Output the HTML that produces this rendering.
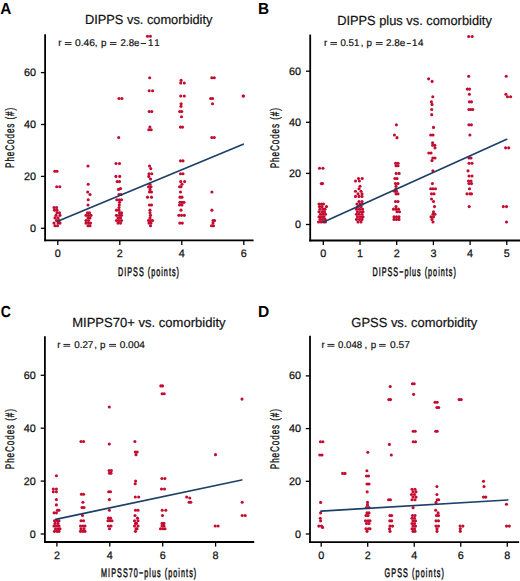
<!DOCTYPE html>
<html><head><meta charset="utf-8"><title>Scatter plots</title>
<style>
html,body{margin:0;padding:0;background:#fff;overflow:hidden;}
svg{display:block;font-family:"Liberation Sans", sans-serif;text-rendering:geometricPrecision;}
</style></head>
<body>
<svg width="520" height="581" viewBox="0 0 520 581">
<rect width="520" height="581" fill="#fff"/>
<g fill="#c20c30">
<text x="0.32" y="14" font-size="16" font-weight="bold" fill="#000" textLength="11.1" lengthAdjust="spacingAndGlyphs">A</text>
<text x="84.97" y="23.5" font-size="13.2" fill="#111" textLength="127.46" lengthAdjust="spacingAndGlyphs" stroke="#111" stroke-width="0.2">DIPPS vs. comorbidity</text>
<line x1="45.1" y1="34.2" x2="45.1" y2="241.2" stroke="#000" stroke-width="1.8"/>
<line x1="44.3" y1="240.3" x2="253.6" y2="240.3" stroke="#000" stroke-width="1.8"/>
<line x1="40.9" y1="228.3" x2="45.1" y2="228.3" stroke="#000" stroke-width="1.3"/>
<text x="36" y="231.8" font-size="10.8" fill="#111" stroke="#111" stroke-width="0.25" text-anchor="end">0</text>
<line x1="40.9" y1="176.4" x2="45.1" y2="176.4" stroke="#000" stroke-width="1.3"/>
<text x="36" y="179.9" font-size="10.8" fill="#111" stroke="#111" stroke-width="0.25" text-anchor="end">20</text>
<line x1="40.9" y1="124.5" x2="45.1" y2="124.5" stroke="#000" stroke-width="1.3"/>
<text x="36" y="128" font-size="10.8" fill="#111" stroke="#111" stroke-width="0.25" text-anchor="end">40</text>
<line x1="40.9" y1="72.6" x2="45.1" y2="72.6" stroke="#000" stroke-width="1.3"/>
<text x="36" y="76.1" font-size="10.8" fill="#111" stroke="#111" stroke-width="0.25" text-anchor="end">60</text>
<line x1="57.8" y1="240.3" x2="57.8" y2="244.9" stroke="#000" stroke-width="1.3"/>
<line x1="119.8" y1="240.3" x2="119.8" y2="244.9" stroke="#000" stroke-width="1.3"/>
<line x1="181.8" y1="240.3" x2="181.8" y2="244.9" stroke="#000" stroke-width="1.3"/>
<line x1="243.8" y1="240.3" x2="243.8" y2="244.9" stroke="#000" stroke-width="1.3"/>
<text x="57.8" y="257" font-size="10.8" fill="#111" stroke="#111" stroke-width="0.25" text-anchor="middle">0</text>
<text x="119.8" y="257" font-size="10.8" fill="#111" stroke="#111" stroke-width="0.25" text-anchor="middle">2</text>
<text x="181.8" y="257" font-size="10.8" fill="#111" stroke="#111" stroke-width="0.25" text-anchor="middle">4</text>
<text x="243.8" y="257" font-size="10.8" fill="#111" stroke="#111" stroke-width="0.25" text-anchor="middle">6</text>
<text transform="translate(118.02 275.6) scale(0.58 1)" x="0" y="0" font-size="12.4" fill="#111" stroke="#111" stroke-width="0.5" letter-spacing="1.773">DIPSS (points)</text>
<g transform="translate(14 137.8) rotate(-90)"><text transform="translate(-30.15 0) scale(0.66 1)" x="0" y="0" font-size="12.4" fill="#111" stroke="#111" stroke-width="0.35" letter-spacing="1.335">PheCodes (#)</text></g>
<circle cx="54.8" cy="171.21" r="1.55"/>
<circle cx="57" cy="171.21" r="1.55"/>
<circle cx="56.7" cy="186.78" r="1.55"/>
<circle cx="59.8" cy="186.78" r="1.55"/>
<circle cx="54" cy="207.54" r="1.55"/>
<circle cx="56.5" cy="207.54" r="1.55"/>
<circle cx="54.5" cy="210.14" r="1.55"/>
<circle cx="57" cy="210.14" r="1.55"/>
<circle cx="59.5" cy="212.73" r="1.55"/>
<circle cx="57" cy="212.73" r="1.55"/>
<circle cx="60" cy="215.33" r="1.55"/>
<circle cx="56" cy="215.33" r="1.55"/>
<circle cx="58" cy="217.92" r="1.55"/>
<circle cx="55" cy="217.92" r="1.55"/>
<circle cx="59" cy="220.52" r="1.55"/>
<circle cx="56.5" cy="220.52" r="1.55"/>
<circle cx="54" cy="223.11" r="1.55"/>
<circle cx="58" cy="223.11" r="1.55"/>
<circle cx="60" cy="223.11" r="1.55"/>
<circle cx="55" cy="225.71" r="1.55"/>
<circle cx="57.5" cy="225.71" r="1.55"/>
<circle cx="88" cy="166.02" r="1.55"/>
<circle cx="88.2" cy="184.19" r="1.55"/>
<circle cx="87.7" cy="191.97" r="1.55"/>
<circle cx="90" cy="194.56" r="1.55"/>
<circle cx="88.2" cy="199.75" r="1.55"/>
<circle cx="88" cy="204.95" r="1.55"/>
<circle cx="87.5" cy="212.73" r="1.55"/>
<circle cx="89.5" cy="212.73" r="1.55"/>
<circle cx="86" cy="215.33" r="1.55"/>
<circle cx="88.5" cy="215.33" r="1.55"/>
<circle cx="91" cy="215.33" r="1.55"/>
<circle cx="88" cy="217.92" r="1.55"/>
<circle cx="90" cy="217.92" r="1.55"/>
<circle cx="86" cy="220.52" r="1.55"/>
<circle cx="88.5" cy="220.52" r="1.55"/>
<circle cx="86" cy="223.11" r="1.55"/>
<circle cx="88.5" cy="223.11" r="1.55"/>
<circle cx="90.5" cy="223.11" r="1.55"/>
<circle cx="88" cy="225.71" r="1.55"/>
<circle cx="90" cy="225.71" r="1.55"/>
<circle cx="119" cy="98.55" r="1.55"/>
<circle cx="121.9" cy="98.55" r="1.55"/>
<circle cx="118.7" cy="137.48" r="1.55"/>
<circle cx="116" cy="163.43" r="1.55"/>
<circle cx="119.5" cy="163.43" r="1.55"/>
<circle cx="115.9" cy="176.4" r="1.55"/>
<circle cx="119.7" cy="176.4" r="1.55"/>
<circle cx="117.2" cy="181.59" r="1.55"/>
<circle cx="119.5" cy="181.59" r="1.55"/>
<circle cx="118.5" cy="189.38" r="1.55"/>
<circle cx="120.5" cy="188.6" r="1.55"/>
<circle cx="119" cy="194.56" r="1.55"/>
<circle cx="121" cy="194.56" r="1.55"/>
<circle cx="116.8" cy="199.75" r="1.55"/>
<circle cx="119.3" cy="199.75" r="1.55"/>
<circle cx="121.5" cy="199.75" r="1.55"/>
<circle cx="119.5" cy="202.35" r="1.55"/>
<circle cx="119.3" cy="204.95" r="1.55"/>
<circle cx="119" cy="207.54" r="1.55"/>
<circle cx="116.5" cy="210.14" r="1.55"/>
<circle cx="119" cy="210.14" r="1.55"/>
<circle cx="119.5" cy="212.73" r="1.55"/>
<circle cx="121.5" cy="212.73" r="1.55"/>
<circle cx="116.5" cy="215.33" r="1.55"/>
<circle cx="119.5" cy="215.33" r="1.55"/>
<circle cx="121.5" cy="215.33" r="1.55"/>
<circle cx="118" cy="217.92" r="1.55"/>
<circle cx="120.5" cy="217.92" r="1.55"/>
<circle cx="116.5" cy="220.52" r="1.55"/>
<circle cx="119" cy="220.52" r="1.55"/>
<circle cx="121.5" cy="220.52" r="1.55"/>
<circle cx="118" cy="223.11" r="1.55"/>
<circle cx="120.5" cy="223.11" r="1.55"/>
<circle cx="147.5" cy="36.27" r="1.55"/>
<circle cx="150.4" cy="36.27" r="1.55"/>
<circle cx="149.7" cy="77.79" r="1.55"/>
<circle cx="149.2" cy="90.77" r="1.55"/>
<circle cx="152.6" cy="90.77" r="1.55"/>
<circle cx="149.2" cy="111.53" r="1.55"/>
<circle cx="151.8" cy="111.53" r="1.55"/>
<circle cx="149.9" cy="127.09" r="1.55"/>
<circle cx="148.8" cy="129.69" r="1.55"/>
<circle cx="151.2" cy="129.69" r="1.55"/>
<circle cx="149.5" cy="166.02" r="1.55"/>
<circle cx="150.8" cy="168.62" r="1.55"/>
<circle cx="149" cy="173.81" r="1.55"/>
<circle cx="151.8" cy="173.81" r="1.55"/>
<circle cx="148.8" cy="176.4" r="1.55"/>
<circle cx="150.5" cy="179" r="1.55"/>
<circle cx="150" cy="184.19" r="1.55"/>
<circle cx="148.5" cy="186.78" r="1.55"/>
<circle cx="151" cy="186.78" r="1.55"/>
<circle cx="150" cy="189.38" r="1.55"/>
<circle cx="149.5" cy="191.97" r="1.55"/>
<circle cx="151.5" cy="191.97" r="1.55"/>
<circle cx="147.5" cy="197.16" r="1.55"/>
<circle cx="151.5" cy="197.16" r="1.55"/>
<circle cx="149.5" cy="204.95" r="1.55"/>
<circle cx="151.5" cy="204.95" r="1.55"/>
<circle cx="150" cy="210.14" r="1.55"/>
<circle cx="150" cy="212.73" r="1.55"/>
<circle cx="150.5" cy="215.33" r="1.55"/>
<circle cx="150" cy="217.92" r="1.55"/>
<circle cx="148.5" cy="220.52" r="1.55"/>
<circle cx="150.5" cy="220.52" r="1.55"/>
<circle cx="152.5" cy="220.52" r="1.55"/>
<circle cx="149" cy="223.11" r="1.55"/>
<circle cx="151" cy="223.11" r="1.55"/>
<circle cx="150.5" cy="225.71" r="1.55"/>
<circle cx="181.1" cy="80.38" r="1.55"/>
<circle cx="180.7" cy="82.98" r="1.55"/>
<circle cx="184.3" cy="82.98" r="1.55"/>
<circle cx="180.7" cy="95.96" r="1.55"/>
<circle cx="184.3" cy="95.96" r="1.55"/>
<circle cx="181.1" cy="103.74" r="1.55"/>
<circle cx="181" cy="106.34" r="1.55"/>
<circle cx="179.7" cy="111.53" r="1.55"/>
<circle cx="181.8" cy="111.53" r="1.55"/>
<circle cx="181.5" cy="116.72" r="1.55"/>
<circle cx="180.4" cy="127.09" r="1.55"/>
<circle cx="182.5" cy="127.09" r="1.55"/>
<circle cx="180.5" cy="160.83" r="1.55"/>
<circle cx="183" cy="160.83" r="1.55"/>
<circle cx="180.5" cy="173.81" r="1.55"/>
<circle cx="183" cy="173.81" r="1.55"/>
<circle cx="180.7" cy="181.59" r="1.55"/>
<circle cx="184.6" cy="181.59" r="1.55"/>
<circle cx="182" cy="184.19" r="1.55"/>
<circle cx="179.6" cy="186.78" r="1.55"/>
<circle cx="181" cy="186.78" r="1.55"/>
<circle cx="180.5" cy="191.97" r="1.55"/>
<circle cx="180" cy="197.16" r="1.55"/>
<circle cx="182" cy="197.16" r="1.55"/>
<circle cx="180" cy="202.35" r="1.55"/>
<circle cx="182" cy="202.35" r="1.55"/>
<circle cx="184" cy="202.35" r="1.55"/>
<circle cx="179.5" cy="204.95" r="1.55"/>
<circle cx="182" cy="204.95" r="1.55"/>
<circle cx="181" cy="210.14" r="1.55"/>
<circle cx="178.8" cy="215.33" r="1.55"/>
<circle cx="181.5" cy="215.33" r="1.55"/>
<circle cx="184.3" cy="215.33" r="1.55"/>
<circle cx="179.8" cy="223.11" r="1.55"/>
<circle cx="182.3" cy="223.11" r="1.55"/>
<circle cx="211.8" cy="77.79" r="1.55"/>
<circle cx="214.3" cy="77.79" r="1.55"/>
<circle cx="210.7" cy="98.55" r="1.55"/>
<circle cx="212.5" cy="98.55" r="1.55"/>
<circle cx="212.5" cy="103.74" r="1.55"/>
<circle cx="211.8" cy="137.48" r="1.55"/>
<circle cx="214.3" cy="137.48" r="1.55"/>
<circle cx="211.9" cy="191.97" r="1.55"/>
<circle cx="211.9" cy="210.14" r="1.55"/>
<circle cx="213" cy="220.52" r="1.55"/>
<circle cx="214.6" cy="220.52" r="1.55"/>
<circle cx="213" cy="223.11" r="1.55"/>
<circle cx="211.5" cy="225.71" r="1.55"/>
<circle cx="213.5" cy="225.71" r="1.55"/>
<circle cx="243.2" cy="95.96" r="1.55"/>
<circle cx="243.4" cy="95.96" r="1.55"/>
<line x1="57.7" y1="221.3" x2="243.2" y2="144.2" stroke="#1c4066" stroke-width="1.75" stroke-linecap="round"/>
<text x="58.36" y="46.4" font-size="9.8" fill="#111" stroke="#111" stroke-width="0.2">r</text>
<rect x="64.8" y="42.15" width="6.7" height="0.9" fill="#111"/>
<rect x="64.8" y="43.95" width="6.7" height="0.9" fill="#111"/>
<text x="74.94" y="46.4" font-size="9.8" fill="#111" textLength="20.09" lengthAdjust="spacingAndGlyphs" stroke="#111" stroke-width="0.2">0.46</text>
<text x="94.82" y="46.4" font-size="9.8" fill="#111" stroke="#111" stroke-width="0.2">,</text>
<text x="101.06" y="46.4" font-size="9.8" fill="#111" stroke="#111" stroke-width="0.2">p</text>
<rect x="109.9" y="42.15" width="6.6" height="0.9" fill="#111"/>
<rect x="109.9" y="43.95" width="6.6" height="0.9" fill="#111"/>
<text x="120.57" y="46.4" font-size="9.8" fill="#111" textLength="18.83" lengthAdjust="spacingAndGlyphs" stroke="#111" stroke-width="0.2">2.8e</text>
<rect x="140.7" y="43.05" width="5.3" height="0.9" fill="#111"/>
<text x="147.97" y="46.4" font-size="9.8" fill="#111" stroke="#111" stroke-width="0.2">1</text>
<text x="154.26" y="46.4" font-size="9.8" fill="#111" stroke="#111" stroke-width="0.2">1</text>
<text x="258.1" y="13.6" font-size="16" font-weight="bold" fill="#000" textLength="11.13" lengthAdjust="spacingAndGlyphs">B</text>
<text x="337.17" y="24.8" font-size="13.2" fill="#111" textLength="154.69" lengthAdjust="spacingAndGlyphs" stroke="#111" stroke-width="0.2">DIPPS plus vs. comorbidity</text>
<line x1="310.2" y1="34.6" x2="310.2" y2="241.4" stroke="#000" stroke-width="1.8"/>
<line x1="309.3" y1="240.5" x2="520" y2="240.5" stroke="#000" stroke-width="1.8"/>
<line x1="306" y1="224.5" x2="310.2" y2="224.5" stroke="#000" stroke-width="1.3"/>
<text x="300.9" y="228" font-size="10.8" fill="#111" stroke="#111" stroke-width="0.25" text-anchor="end">0</text>
<line x1="306" y1="173.4" x2="310.2" y2="173.4" stroke="#000" stroke-width="1.3"/>
<text x="300.9" y="176.9" font-size="10.8" fill="#111" stroke="#111" stroke-width="0.25" text-anchor="end">20</text>
<line x1="306" y1="122.3" x2="310.2" y2="122.3" stroke="#000" stroke-width="1.3"/>
<text x="300.9" y="125.8" font-size="10.8" fill="#111" stroke="#111" stroke-width="0.25" text-anchor="end">40</text>
<line x1="306" y1="71.2" x2="310.2" y2="71.2" stroke="#000" stroke-width="1.3"/>
<text x="300.9" y="74.7" font-size="10.8" fill="#111" stroke="#111" stroke-width="0.25" text-anchor="end">60</text>
<line x1="323.3" y1="240.5" x2="323.3" y2="245.1" stroke="#000" stroke-width="1.3"/>
<line x1="360" y1="240.5" x2="360" y2="245.1" stroke="#000" stroke-width="1.3"/>
<line x1="396.7" y1="240.5" x2="396.7" y2="245.1" stroke="#000" stroke-width="1.3"/>
<line x1="433.4" y1="240.5" x2="433.4" y2="245.1" stroke="#000" stroke-width="1.3"/>
<line x1="470.1" y1="240.5" x2="470.1" y2="245.1" stroke="#000" stroke-width="1.3"/>
<line x1="506.8" y1="240.5" x2="506.8" y2="245.1" stroke="#000" stroke-width="1.3"/>
<text x="323.3" y="257" font-size="10.8" fill="#111" stroke="#111" stroke-width="0.25" text-anchor="middle">0</text>
<text x="360" y="257" font-size="10.8" fill="#111" stroke="#111" stroke-width="0.25" text-anchor="middle">1</text>
<text x="396.7" y="257" font-size="10.8" fill="#111" stroke="#111" stroke-width="0.25" text-anchor="middle">2</text>
<text x="433.4" y="257" font-size="10.8" fill="#111" stroke="#111" stroke-width="0.25" text-anchor="middle">3</text>
<text x="470.1" y="257" font-size="10.8" fill="#111" stroke="#111" stroke-width="0.25" text-anchor="middle">4</text>
<text x="506.8" y="257" font-size="10.8" fill="#111" stroke="#111" stroke-width="0.25" text-anchor="middle">5</text>
<text transform="translate(372.52 275.6) scale(0.58 1)" x="0" y="0" font-size="12.4" fill="#111" stroke="#111" stroke-width="0.5" letter-spacing="1.759">DIPSS−plus (points)</text>
<g transform="translate(279.4 138.1) rotate(-90)"><text transform="translate(-30.15 0) scale(0.66 1)" x="0" y="0" font-size="12.4" fill="#111" stroke="#111" stroke-width="0.35" letter-spacing="1.335">PheCodes (#)</text></g>
<circle cx="319.5" cy="168.29" r="1.55"/>
<circle cx="323" cy="168.29" r="1.55"/>
<circle cx="321.3" cy="183.62" r="1.55"/>
<circle cx="322.5" cy="183.62" r="1.55"/>
<circle cx="326.5" cy="206.62" r="1.55"/>
<circle cx="319" cy="204.06" r="1.55"/>
<circle cx="321.5" cy="204.06" r="1.55"/>
<circle cx="323.5" cy="204.06" r="1.55"/>
<circle cx="319.5" cy="206.62" r="1.55"/>
<circle cx="322" cy="206.62" r="1.55"/>
<circle cx="320" cy="209.17" r="1.55"/>
<circle cx="323" cy="209.17" r="1.55"/>
<circle cx="325" cy="209.17" r="1.55"/>
<circle cx="319" cy="211.72" r="1.55"/>
<circle cx="322" cy="211.72" r="1.55"/>
<circle cx="324.5" cy="211.72" r="1.55"/>
<circle cx="320.5" cy="214.28" r="1.55"/>
<circle cx="323" cy="214.28" r="1.55"/>
<circle cx="325.5" cy="214.28" r="1.55"/>
<circle cx="319" cy="216.84" r="1.55"/>
<circle cx="321.5" cy="216.84" r="1.55"/>
<circle cx="324" cy="216.84" r="1.55"/>
<circle cx="320" cy="219.39" r="1.55"/>
<circle cx="322.5" cy="219.39" r="1.55"/>
<circle cx="325" cy="219.39" r="1.55"/>
<circle cx="318.5" cy="221.94" r="1.55"/>
<circle cx="321" cy="221.94" r="1.55"/>
<circle cx="323.5" cy="221.94" r="1.55"/>
<circle cx="325.5" cy="221.94" r="1.55"/>
<circle cx="358.5" cy="178.51" r="1.55"/>
<circle cx="362.2" cy="178.51" r="1.55"/>
<circle cx="355.5" cy="181.06" r="1.55"/>
<circle cx="359.4" cy="181.06" r="1.55"/>
<circle cx="360" cy="186.18" r="1.55"/>
<circle cx="359" cy="188.73" r="1.55"/>
<circle cx="355.5" cy="191.28" r="1.55"/>
<circle cx="361" cy="191.28" r="1.55"/>
<circle cx="358" cy="193.84" r="1.55"/>
<circle cx="362" cy="193.84" r="1.55"/>
<circle cx="355.5" cy="196.4" r="1.55"/>
<circle cx="359" cy="196.4" r="1.55"/>
<circle cx="362" cy="196.4" r="1.55"/>
<circle cx="359" cy="201.5" r="1.55"/>
<circle cx="362" cy="201.5" r="1.55"/>
<circle cx="357" cy="204.06" r="1.55"/>
<circle cx="360" cy="204.06" r="1.55"/>
<circle cx="362.5" cy="204.06" r="1.55"/>
<circle cx="358" cy="206.62" r="1.55"/>
<circle cx="361" cy="206.62" r="1.55"/>
<circle cx="356.5" cy="209.17" r="1.55"/>
<circle cx="359.5" cy="209.17" r="1.55"/>
<circle cx="362.5" cy="209.17" r="1.55"/>
<circle cx="357.5" cy="211.72" r="1.55"/>
<circle cx="360.5" cy="211.72" r="1.55"/>
<circle cx="363" cy="211.72" r="1.55"/>
<circle cx="356.5" cy="214.28" r="1.55"/>
<circle cx="359" cy="214.28" r="1.55"/>
<circle cx="362" cy="214.28" r="1.55"/>
<circle cx="357.5" cy="216.84" r="1.55"/>
<circle cx="360.5" cy="216.84" r="1.55"/>
<circle cx="363" cy="216.84" r="1.55"/>
<circle cx="356.5" cy="219.39" r="1.55"/>
<circle cx="359.5" cy="219.39" r="1.55"/>
<circle cx="362" cy="219.39" r="1.55"/>
<circle cx="358" cy="221.94" r="1.55"/>
<circle cx="361" cy="221.94" r="1.55"/>
<circle cx="396.4" cy="124.85" r="1.55"/>
<circle cx="394.4" cy="135.07" r="1.55"/>
<circle cx="397" cy="137.63" r="1.55"/>
<circle cx="395.6" cy="163.18" r="1.55"/>
<circle cx="398.1" cy="163.18" r="1.55"/>
<circle cx="396" cy="165.74" r="1.55"/>
<circle cx="398" cy="165.74" r="1.55"/>
<circle cx="396.2" cy="173.4" r="1.55"/>
<circle cx="399.1" cy="173.4" r="1.55"/>
<circle cx="394.9" cy="178.51" r="1.55"/>
<circle cx="397" cy="178.51" r="1.55"/>
<circle cx="395.5" cy="183.62" r="1.55"/>
<circle cx="398" cy="183.62" r="1.55"/>
<circle cx="396" cy="186.18" r="1.55"/>
<circle cx="396" cy="188.73" r="1.55"/>
<circle cx="394.5" cy="191.28" r="1.55"/>
<circle cx="396.5" cy="191.28" r="1.55"/>
<circle cx="396" cy="193.84" r="1.55"/>
<circle cx="398" cy="193.84" r="1.55"/>
<circle cx="395.5" cy="201.5" r="1.55"/>
<circle cx="398" cy="201.5" r="1.55"/>
<circle cx="396" cy="206.62" r="1.55"/>
<circle cx="393.5" cy="209.17" r="1.55"/>
<circle cx="396" cy="209.17" r="1.55"/>
<circle cx="398.5" cy="209.17" r="1.55"/>
<circle cx="397" cy="211.72" r="1.55"/>
<circle cx="399.5" cy="211.72" r="1.55"/>
<circle cx="394" cy="216.84" r="1.55"/>
<circle cx="396.5" cy="216.84" r="1.55"/>
<circle cx="399" cy="216.84" r="1.55"/>
<circle cx="394" cy="219.39" r="1.55"/>
<circle cx="396.5" cy="219.39" r="1.55"/>
<circle cx="399" cy="219.39" r="1.55"/>
<circle cx="428.6" cy="78.86" r="1.55"/>
<circle cx="432.1" cy="81.42" r="1.55"/>
<circle cx="432.8" cy="96.75" r="1.55"/>
<circle cx="431.4" cy="101.86" r="1.55"/>
<circle cx="432" cy="104.41" r="1.55"/>
<circle cx="431.7" cy="109.52" r="1.55"/>
<circle cx="431.7" cy="114.63" r="1.55"/>
<circle cx="433.5" cy="127.41" r="1.55"/>
<circle cx="430.7" cy="135.07" r="1.55"/>
<circle cx="433" cy="135.07" r="1.55"/>
<circle cx="432.6" cy="142.74" r="1.55"/>
<circle cx="432.6" cy="145.3" r="1.55"/>
<circle cx="434.8" cy="145.3" r="1.55"/>
<circle cx="435" cy="147.85" r="1.55"/>
<circle cx="428.8" cy="152.96" r="1.55"/>
<circle cx="431.1" cy="152.96" r="1.55"/>
<circle cx="432.8" cy="158.07" r="1.55"/>
<circle cx="435" cy="158.07" r="1.55"/>
<circle cx="432" cy="160.62" r="1.55"/>
<circle cx="432.9" cy="170.84" r="1.55"/>
<circle cx="432.4" cy="183.62" r="1.55"/>
<circle cx="430.7" cy="188.73" r="1.55"/>
<circle cx="433" cy="188.73" r="1.55"/>
<circle cx="435.5" cy="188.73" r="1.55"/>
<circle cx="431.5" cy="193.84" r="1.55"/>
<circle cx="434" cy="193.84" r="1.55"/>
<circle cx="431.5" cy="198.95" r="1.55"/>
<circle cx="433.5" cy="201.5" r="1.55"/>
<circle cx="434.5" cy="206.62" r="1.55"/>
<circle cx="433.5" cy="211.72" r="1.55"/>
<circle cx="433" cy="214.28" r="1.55"/>
<circle cx="435" cy="214.28" r="1.55"/>
<circle cx="431" cy="216.84" r="1.55"/>
<circle cx="433.5" cy="216.84" r="1.55"/>
<circle cx="432" cy="219.39" r="1.55"/>
<circle cx="433" cy="221.94" r="1.55"/>
<circle cx="468.7" cy="36.45" r="1.55"/>
<circle cx="472.2" cy="36.45" r="1.55"/>
<circle cx="468.7" cy="76.31" r="1.55"/>
<circle cx="467.3" cy="89.08" r="1.55"/>
<circle cx="469.5" cy="89.08" r="1.55"/>
<circle cx="469.4" cy="94.19" r="1.55"/>
<circle cx="469.4" cy="101.86" r="1.55"/>
<circle cx="471.5" cy="101.86" r="1.55"/>
<circle cx="468.9" cy="109.52" r="1.55"/>
<circle cx="470.8" cy="109.52" r="1.55"/>
<circle cx="472.8" cy="109.52" r="1.55"/>
<circle cx="468.9" cy="124.85" r="1.55"/>
<circle cx="471.4" cy="124.85" r="1.55"/>
<circle cx="469.9" cy="135.07" r="1.55"/>
<circle cx="469" cy="158.07" r="1.55"/>
<circle cx="471" cy="158.07" r="1.55"/>
<circle cx="469" cy="163.18" r="1.55"/>
<circle cx="472" cy="163.18" r="1.55"/>
<circle cx="468" cy="170.84" r="1.55"/>
<circle cx="469" cy="175.95" r="1.55"/>
<circle cx="472" cy="175.95" r="1.55"/>
<circle cx="468.5" cy="181.06" r="1.55"/>
<circle cx="471" cy="181.06" r="1.55"/>
<circle cx="469" cy="183.62" r="1.55"/>
<circle cx="471.5" cy="183.62" r="1.55"/>
<circle cx="469.5" cy="188.73" r="1.55"/>
<circle cx="467" cy="193.84" r="1.55"/>
<circle cx="470" cy="193.84" r="1.55"/>
<circle cx="471.5" cy="193.84" r="1.55"/>
<circle cx="469.2" cy="206.62" r="1.55"/>
<circle cx="506.2" cy="76.31" r="1.55"/>
<circle cx="505.9" cy="94.19" r="1.55"/>
<circle cx="507.5" cy="96.75" r="1.55"/>
<circle cx="510.6" cy="96.75" r="1.55"/>
<circle cx="505.6" cy="147.85" r="1.55"/>
<circle cx="508.7" cy="147.85" r="1.55"/>
<circle cx="503.3" cy="206.62" r="1.55"/>
<circle cx="506.5" cy="206.62" r="1.55"/>
<circle cx="506.5" cy="221.94" r="1.55"/>
<line x1="323" y1="222.2" x2="506.7" y2="139.3" stroke="#1c4066" stroke-width="1.75" stroke-linecap="round"/>
<text x="323.96" y="46.3" font-size="9.8" fill="#111" stroke="#111" stroke-width="0.2">r</text>
<rect x="330.4" y="42.05" width="6.6" height="0.9" fill="#111"/>
<rect x="330.4" y="43.85" width="6.6" height="0.9" fill="#111"/>
<text x="340.46" y="46.3" font-size="9.8" fill="#111" textLength="18.89" lengthAdjust="spacingAndGlyphs" stroke="#111" stroke-width="0.2">0.51</text>
<text x="360.72" y="46.3" font-size="9.8" fill="#111" stroke="#111" stroke-width="0.2">,</text>
<text x="366.56" y="46.3" font-size="9.8" fill="#111" stroke="#111" stroke-width="0.2">p</text>
<rect x="375.8" y="42.05" width="6.8" height="0.9" fill="#111"/>
<rect x="375.8" y="43.85" width="6.8" height="0.9" fill="#111"/>
<text x="386.05" y="46.3" font-size="9.8" fill="#111" textLength="19.36" lengthAdjust="spacingAndGlyphs" stroke="#111" stroke-width="0.2">2.8e</text>
<rect x="406.8" y="42.95" width="4.1" height="0.9" fill="#111"/>
<text x="411.96" y="46.3" font-size="9.8" fill="#111" stroke="#111" stroke-width="0.2">1</text>
<text x="417.95" y="46.3" font-size="9.8" fill="#111" stroke="#111" stroke-width="0.2">4</text>
<text x="0.74" y="317.3" font-size="16" font-weight="bold" fill="#000" textLength="10.14" lengthAdjust="spacingAndGlyphs">C</text>
<text x="72.16" y="326.6" font-size="13.2" fill="#111" textLength="153.41" lengthAdjust="spacingAndGlyphs" stroke="#111" stroke-width="0.2">MIPPS70+ vs. comorbidity</text>
<line x1="44.9" y1="336.2" x2="44.9" y2="542.9" stroke="#000" stroke-width="1.8"/>
<line x1="44.1" y1="542" x2="254.2" y2="542" stroke="#000" stroke-width="1.8"/>
<line x1="40.7" y1="534" x2="44.9" y2="534" stroke="#000" stroke-width="1.3"/>
<text x="35.8" y="537.5" font-size="10.8" fill="#111" stroke="#111" stroke-width="0.25" text-anchor="end">0</text>
<line x1="40.7" y1="481.1" x2="44.9" y2="481.1" stroke="#000" stroke-width="1.3"/>
<text x="35.8" y="484.6" font-size="10.8" fill="#111" stroke="#111" stroke-width="0.25" text-anchor="end">20</text>
<line x1="40.7" y1="428.2" x2="44.9" y2="428.2" stroke="#000" stroke-width="1.3"/>
<text x="35.8" y="431.7" font-size="10.8" fill="#111" stroke="#111" stroke-width="0.25" text-anchor="end">40</text>
<line x1="40.7" y1="375.3" x2="44.9" y2="375.3" stroke="#000" stroke-width="1.3"/>
<text x="35.8" y="378.8" font-size="10.8" fill="#111" stroke="#111" stroke-width="0.25" text-anchor="end">60</text>
<line x1="56.9" y1="542" x2="56.9" y2="546.6" stroke="#000" stroke-width="1.3"/>
<line x1="109.8" y1="542" x2="109.8" y2="546.6" stroke="#000" stroke-width="1.3"/>
<line x1="162.7" y1="542" x2="162.7" y2="546.6" stroke="#000" stroke-width="1.3"/>
<line x1="215.6" y1="542" x2="215.6" y2="546.6" stroke="#000" stroke-width="1.3"/>
<text x="56.9" y="558.8" font-size="10.8" fill="#111" stroke="#111" stroke-width="0.25" text-anchor="middle">2</text>
<text x="109.8" y="558.8" font-size="10.8" fill="#111" stroke="#111" stroke-width="0.25" text-anchor="middle">4</text>
<text x="162.7" y="558.8" font-size="10.8" fill="#111" stroke="#111" stroke-width="0.25" text-anchor="middle">6</text>
<text x="215.6" y="558.8" font-size="10.8" fill="#111" stroke="#111" stroke-width="0.25" text-anchor="middle">8</text>
<text transform="translate(101.02 577.2) scale(0.58 1)" x="0" y="0" font-size="12.4" fill="#111" stroke="#111" stroke-width="0.5" letter-spacing="1.852">MIPSS70−plus (points)</text>
<g transform="translate(14 439) rotate(-90)"><text transform="translate(-30.15 0) scale(0.66 1)" x="0" y="0" font-size="12.4" fill="#111" stroke="#111" stroke-width="0.35" letter-spacing="1.335">PheCodes (#)</text></g>
<circle cx="56.4" cy="475.81" r="1.55"/>
<circle cx="53.3" cy="489.03" r="1.55"/>
<circle cx="56.4" cy="489.03" r="1.55"/>
<circle cx="53.3" cy="491.68" r="1.55"/>
<circle cx="56.4" cy="491.68" r="1.55"/>
<circle cx="56.4" cy="499.62" r="1.55"/>
<circle cx="56.4" cy="504.9" r="1.55"/>
<circle cx="57.5" cy="510.19" r="1.55"/>
<circle cx="59" cy="510.19" r="1.55"/>
<circle cx="54.1" cy="512.84" r="1.55"/>
<circle cx="56.4" cy="512.84" r="1.55"/>
<circle cx="54.5" cy="520.77" r="1.55"/>
<circle cx="57" cy="520.77" r="1.55"/>
<circle cx="59" cy="520.77" r="1.55"/>
<circle cx="55" cy="523.42" r="1.55"/>
<circle cx="58" cy="523.42" r="1.55"/>
<circle cx="54" cy="526.07" r="1.55"/>
<circle cx="56.5" cy="526.07" r="1.55"/>
<circle cx="59" cy="526.07" r="1.55"/>
<circle cx="55.5" cy="528.71" r="1.55"/>
<circle cx="58" cy="528.71" r="1.55"/>
<circle cx="60" cy="528.71" r="1.55"/>
<circle cx="54.5" cy="531.36" r="1.55"/>
<circle cx="57" cy="531.36" r="1.55"/>
<circle cx="59" cy="531.36" r="1.55"/>
<circle cx="81" cy="441.43" r="1.55"/>
<circle cx="83.6" cy="441.43" r="1.55"/>
<circle cx="81.4" cy="494.32" r="1.55"/>
<circle cx="83.6" cy="494.32" r="1.55"/>
<circle cx="82.9" cy="502.26" r="1.55"/>
<circle cx="82" cy="507.55" r="1.55"/>
<circle cx="84" cy="507.55" r="1.55"/>
<circle cx="82.5" cy="515.49" r="1.55"/>
<circle cx="81" cy="520.77" r="1.55"/>
<circle cx="83.5" cy="520.77" r="1.55"/>
<circle cx="80.5" cy="526.07" r="1.55"/>
<circle cx="83" cy="526.07" r="1.55"/>
<circle cx="85" cy="526.07" r="1.55"/>
<circle cx="81" cy="528.71" r="1.55"/>
<circle cx="84" cy="528.71" r="1.55"/>
<circle cx="80.5" cy="531.36" r="1.55"/>
<circle cx="83" cy="531.36" r="1.55"/>
<circle cx="85" cy="531.36" r="1.55"/>
<circle cx="109.3" cy="407.04" r="1.55"/>
<circle cx="109.3" cy="444.07" r="1.55"/>
<circle cx="109.1" cy="470.52" r="1.55"/>
<circle cx="111.4" cy="470.52" r="1.55"/>
<circle cx="109.5" cy="473.17" r="1.55"/>
<circle cx="111" cy="473.17" r="1.55"/>
<circle cx="108.7" cy="491.68" r="1.55"/>
<circle cx="110.5" cy="491.68" r="1.55"/>
<circle cx="109.4" cy="499.62" r="1.55"/>
<circle cx="109.4" cy="510.19" r="1.55"/>
<circle cx="108.5" cy="518.13" r="1.55"/>
<circle cx="110.5" cy="518.13" r="1.55"/>
<circle cx="108" cy="520.77" r="1.55"/>
<circle cx="110" cy="520.77" r="1.55"/>
<circle cx="112" cy="520.77" r="1.55"/>
<circle cx="108.5" cy="526.07" r="1.55"/>
<circle cx="111" cy="526.07" r="1.55"/>
<circle cx="109.5" cy="528.71" r="1.55"/>
<circle cx="134.9" cy="441.43" r="1.55"/>
<circle cx="135.3" cy="452" r="1.55"/>
<circle cx="137.2" cy="452" r="1.55"/>
<circle cx="136" cy="454.65" r="1.55"/>
<circle cx="135.6" cy="481.1" r="1.55"/>
<circle cx="135.2" cy="483.75" r="1.55"/>
<circle cx="135.3" cy="496.97" r="1.55"/>
<circle cx="138.7" cy="496.97" r="1.55"/>
<circle cx="135.5" cy="510.19" r="1.55"/>
<circle cx="138" cy="510.19" r="1.55"/>
<circle cx="135" cy="515.49" r="1.55"/>
<circle cx="134.5" cy="520.77" r="1.55"/>
<circle cx="138" cy="520.77" r="1.55"/>
<circle cx="135.5" cy="523.42" r="1.55"/>
<circle cx="134.5" cy="526.07" r="1.55"/>
<circle cx="137" cy="528.71" r="1.55"/>
<circle cx="135.5" cy="531.36" r="1.55"/>
<circle cx="137.5" cy="518.13" r="1.55"/>
<circle cx="136.5" cy="523.42" r="1.55"/>
<circle cx="136" cy="528.71" r="1.55"/>
<circle cx="138" cy="526.07" r="1.55"/>
<circle cx="160.8" cy="385.88" r="1.55"/>
<circle cx="162.5" cy="385.88" r="1.55"/>
<circle cx="162.1" cy="393.81" r="1.55"/>
<circle cx="164.2" cy="393.81" r="1.55"/>
<circle cx="161.9" cy="478.45" r="1.55"/>
<circle cx="164.9" cy="478.45" r="1.55"/>
<circle cx="161.5" cy="489.03" r="1.55"/>
<circle cx="164.5" cy="489.03" r="1.55"/>
<circle cx="162.2" cy="510.19" r="1.55"/>
<circle cx="165.8" cy="510.19" r="1.55"/>
<circle cx="162.5" cy="515.49" r="1.55"/>
<circle cx="162" cy="523.42" r="1.55"/>
<circle cx="164" cy="523.42" r="1.55"/>
<circle cx="162" cy="526.07" r="1.55"/>
<circle cx="164" cy="526.07" r="1.55"/>
<circle cx="160.5" cy="528.71" r="1.55"/>
<circle cx="163" cy="528.71" r="1.55"/>
<circle cx="165" cy="528.71" r="1.55"/>
<circle cx="186.7" cy="496.97" r="1.55"/>
<circle cx="189.8" cy="498.03" r="1.55"/>
<circle cx="189.1" cy="502.26" r="1.55"/>
<circle cx="190.8" cy="502.26" r="1.55"/>
<circle cx="215.5" cy="454.65" r="1.55"/>
<circle cx="215.2" cy="526.07" r="1.55"/>
<circle cx="218.1" cy="526.07" r="1.55"/>
<circle cx="242" cy="399.11" r="1.55"/>
<circle cx="242.2" cy="502.26" r="1.55"/>
<circle cx="242.2" cy="515.49" r="1.55"/>
<circle cx="245.2" cy="515.49" r="1.55"/>
<line x1="55.7" y1="519.3" x2="241.7" y2="480" stroke="#1c4066" stroke-width="1.75" stroke-linecap="round"/>
<text x="57.36" y="348.2" font-size="9.8" fill="#111" stroke="#111" stroke-width="0.2">r</text>
<rect x="63.4" y="343.95" width="6.8" height="0.9" fill="#111"/>
<rect x="63.4" y="345.75" width="6.8" height="0.9" fill="#111"/>
<text x="74.16" y="348.2" font-size="9.8" fill="#111" textLength="19.2" lengthAdjust="spacingAndGlyphs" stroke="#111" stroke-width="0.2">0.27</text>
<text x="94.22" y="348.2" font-size="9.8" fill="#111" stroke="#111" stroke-width="0.2">,</text>
<text x="100.06" y="348.2" font-size="9.8" fill="#111" stroke="#111" stroke-width="0.2">p</text>
<rect x="109.1" y="343.95" width="6.9" height="0.9" fill="#111"/>
<rect x="109.1" y="345.75" width="6.9" height="0.9" fill="#111"/>
<text x="119.65" y="348.2" font-size="9.8" fill="#111" textLength="25.23" lengthAdjust="spacingAndGlyphs" stroke="#111" stroke-width="0.2">0.004</text>
<text x="258.09" y="317.3" font-size="16" font-weight="bold" fill="#000" textLength="11.27" lengthAdjust="spacingAndGlyphs">D</text>
<text x="351.35" y="326.6" font-size="13.2" fill="#111" textLength="125.82" lengthAdjust="spacingAndGlyphs" stroke="#111" stroke-width="0.2">GPSS vs. comorbidity</text>
<line x1="310" y1="335.8" x2="310" y2="543" stroke="#000" stroke-width="1.8"/>
<line x1="309" y1="542.1" x2="519.1" y2="542.1" stroke="#000" stroke-width="1.8"/>
<line x1="305.8" y1="534" x2="310" y2="534" stroke="#000" stroke-width="1.3"/>
<text x="300.9" y="537.5" font-size="10.8" fill="#111" stroke="#111" stroke-width="0.25" text-anchor="end">0</text>
<line x1="305.8" y1="481.3" x2="310" y2="481.3" stroke="#000" stroke-width="1.3"/>
<text x="300.9" y="484.8" font-size="10.8" fill="#111" stroke="#111" stroke-width="0.25" text-anchor="end">20</text>
<line x1="305.8" y1="428.6" x2="310" y2="428.6" stroke="#000" stroke-width="1.3"/>
<text x="300.9" y="432.1" font-size="10.8" fill="#111" stroke="#111" stroke-width="0.25" text-anchor="end">40</text>
<line x1="305.8" y1="375.9" x2="310" y2="375.9" stroke="#000" stroke-width="1.3"/>
<text x="300.9" y="379.4" font-size="10.8" fill="#111" stroke="#111" stroke-width="0.25" text-anchor="end">60</text>
<line x1="321.2" y1="542.1" x2="321.2" y2="546.7" stroke="#000" stroke-width="1.3"/>
<line x1="367.72" y1="542.1" x2="367.72" y2="546.7" stroke="#000" stroke-width="1.3"/>
<line x1="414.24" y1="542.1" x2="414.24" y2="546.7" stroke="#000" stroke-width="1.3"/>
<line x1="460.76" y1="542.1" x2="460.76" y2="546.7" stroke="#000" stroke-width="1.3"/>
<line x1="507.28" y1="542.1" x2="507.28" y2="546.7" stroke="#000" stroke-width="1.3"/>
<text x="321.2" y="558.8" font-size="10.8" fill="#111" stroke="#111" stroke-width="0.25" text-anchor="middle">0</text>
<text x="367.72" y="558.8" font-size="10.8" fill="#111" stroke="#111" stroke-width="0.25" text-anchor="middle">2</text>
<text x="414.24" y="558.8" font-size="10.8" fill="#111" stroke="#111" stroke-width="0.25" text-anchor="middle">4</text>
<text x="460.76" y="558.8" font-size="10.8" fill="#111" stroke="#111" stroke-width="0.25" text-anchor="middle">6</text>
<text x="507.28" y="558.8" font-size="10.8" fill="#111" stroke="#111" stroke-width="0.25" text-anchor="middle">8</text>
<text transform="translate(384.54 577.2) scale(0.58 1)" x="0" y="0" font-size="12.4" fill="#111" stroke="#111" stroke-width="0.5" letter-spacing="1.930">GPSS (points)</text>
<g transform="translate(279.4 439) rotate(-90)"><text transform="translate(-30.15 0) scale(0.66 1)" x="0" y="0" font-size="12.4" fill="#111" stroke="#111" stroke-width="0.35" letter-spacing="1.335">PheCodes (#)</text></g>
<circle cx="320.4" cy="441.77" r="1.55"/>
<circle cx="322.9" cy="441.77" r="1.55"/>
<circle cx="319.8" cy="454.95" r="1.55"/>
<circle cx="322" cy="454.95" r="1.55"/>
<circle cx="320.6" cy="502.38" r="1.55"/>
<circle cx="320.6" cy="512.92" r="1.55"/>
<circle cx="320.3" cy="518.19" r="1.55"/>
<circle cx="320.6" cy="520.83" r="1.55"/>
<circle cx="318.8" cy="526.1" r="1.55"/>
<circle cx="321.5" cy="526.1" r="1.55"/>
<circle cx="322.6" cy="527.41" r="1.55"/>
<circle cx="342.6" cy="473.39" r="1.55"/>
<circle cx="345" cy="473.39" r="1.55"/>
<circle cx="367.8" cy="452.31" r="1.55"/>
<circle cx="366.9" cy="470.76" r="1.55"/>
<circle cx="366.5" cy="476.03" r="1.55"/>
<circle cx="368.5" cy="476.03" r="1.55"/>
<circle cx="367" cy="483.94" r="1.55"/>
<circle cx="369" cy="483.94" r="1.55"/>
<circle cx="367.2" cy="491.84" r="1.55"/>
<circle cx="367.5" cy="502.38" r="1.55"/>
<circle cx="367.5" cy="505.01" r="1.55"/>
<circle cx="366.5" cy="507.65" r="1.55"/>
<circle cx="369" cy="507.65" r="1.55"/>
<circle cx="367" cy="512.92" r="1.55"/>
<circle cx="369" cy="512.92" r="1.55"/>
<circle cx="366" cy="515.55" r="1.55"/>
<circle cx="368" cy="515.55" r="1.55"/>
<circle cx="365.5" cy="520.83" r="1.55"/>
<circle cx="368" cy="520.83" r="1.55"/>
<circle cx="370" cy="520.83" r="1.55"/>
<circle cx="366.5" cy="523.46" r="1.55"/>
<circle cx="369" cy="523.46" r="1.55"/>
<circle cx="366" cy="528.73" r="1.55"/>
<circle cx="368.5" cy="528.73" r="1.55"/>
<circle cx="370" cy="528.73" r="1.55"/>
<circle cx="367" cy="531.37" r="1.55"/>
<circle cx="390.2" cy="386.44" r="1.55"/>
<circle cx="388.8" cy="399.62" r="1.55"/>
<circle cx="390.5" cy="399.62" r="1.55"/>
<circle cx="389.4" cy="444.41" r="1.55"/>
<circle cx="391.3" cy="454.95" r="1.55"/>
<circle cx="388.6" cy="499.75" r="1.55"/>
<circle cx="390.4" cy="499.75" r="1.55"/>
<circle cx="389.9" cy="515.55" r="1.55"/>
<circle cx="391.7" cy="515.55" r="1.55"/>
<circle cx="389.8" cy="520.83" r="1.55"/>
<circle cx="391.7" cy="520.83" r="1.55"/>
<circle cx="390" cy="526.1" r="1.55"/>
<circle cx="392.5" cy="526.1" r="1.55"/>
<circle cx="389.5" cy="528.73" r="1.55"/>
<circle cx="390" cy="531.37" r="1.55"/>
<circle cx="412.4" cy="383.81" r="1.55"/>
<circle cx="414.2" cy="383.81" r="1.55"/>
<circle cx="413.6" cy="394.35" r="1.55"/>
<circle cx="413.2" cy="431.24" r="1.55"/>
<circle cx="415.2" cy="431.24" r="1.55"/>
<circle cx="413.2" cy="441.77" r="1.55"/>
<circle cx="415.5" cy="441.77" r="1.55"/>
<circle cx="412" cy="489.2" r="1.55"/>
<circle cx="415" cy="489.2" r="1.55"/>
<circle cx="413" cy="491.84" r="1.55"/>
<circle cx="416" cy="491.84" r="1.55"/>
<circle cx="411.5" cy="494.48" r="1.55"/>
<circle cx="414.5" cy="494.48" r="1.55"/>
<circle cx="413" cy="497.11" r="1.55"/>
<circle cx="416" cy="497.11" r="1.55"/>
<circle cx="412" cy="499.75" r="1.55"/>
<circle cx="415" cy="499.75" r="1.55"/>
<circle cx="413.1" cy="507.65" r="1.55"/>
<circle cx="412.5" cy="515.55" r="1.55"/>
<circle cx="415" cy="515.55" r="1.55"/>
<circle cx="412" cy="518.19" r="1.55"/>
<circle cx="414.5" cy="518.19" r="1.55"/>
<circle cx="413" cy="520.83" r="1.55"/>
<circle cx="415.5" cy="520.83" r="1.55"/>
<circle cx="412" cy="523.46" r="1.55"/>
<circle cx="414.5" cy="523.46" r="1.55"/>
<circle cx="413" cy="526.1" r="1.55"/>
<circle cx="415.5" cy="526.1" r="1.55"/>
<circle cx="412" cy="528.73" r="1.55"/>
<circle cx="414.5" cy="528.73" r="1.55"/>
<circle cx="413" cy="531.37" r="1.55"/>
<circle cx="415" cy="531.37" r="1.55"/>
<circle cx="435" cy="402.25" r="1.55"/>
<circle cx="437.2" cy="402.25" r="1.55"/>
<circle cx="436.9" cy="407.52" r="1.55"/>
<circle cx="438.7" cy="407.52" r="1.55"/>
<circle cx="435.7" cy="431.24" r="1.55"/>
<circle cx="437.2" cy="431.24" r="1.55"/>
<circle cx="436.9" cy="486.57" r="1.55"/>
<circle cx="436.9" cy="494.48" r="1.55"/>
<circle cx="437.2" cy="499.75" r="1.55"/>
<circle cx="438.7" cy="499.75" r="1.55"/>
<circle cx="436" cy="502.38" r="1.55"/>
<circle cx="435.7" cy="510.29" r="1.55"/>
<circle cx="438.1" cy="512.92" r="1.55"/>
<circle cx="436.5" cy="515.55" r="1.55"/>
<circle cx="438.5" cy="515.55" r="1.55"/>
<circle cx="436" cy="520.83" r="1.55"/>
<circle cx="438.5" cy="520.83" r="1.55"/>
<circle cx="436" cy="526.1" r="1.55"/>
<circle cx="438.5" cy="526.1" r="1.55"/>
<circle cx="437" cy="528.73" r="1.55"/>
<circle cx="437" cy="531.37" r="1.55"/>
<circle cx="459.2" cy="399.62" r="1.55"/>
<circle cx="461.2" cy="399.62" r="1.55"/>
<circle cx="460.1" cy="526.1" r="1.55"/>
<circle cx="462.9" cy="526.1" r="1.55"/>
<circle cx="460.3" cy="528.73" r="1.55"/>
<circle cx="460.3" cy="531.37" r="1.55"/>
<circle cx="483.5" cy="481.3" r="1.55"/>
<circle cx="484" cy="486.57" r="1.55"/>
<circle cx="483.5" cy="497.11" r="1.55"/>
<circle cx="485.8" cy="497.11" r="1.55"/>
<circle cx="506.5" cy="504.22" r="1.55"/>
<circle cx="506.5" cy="526.1" r="1.55"/>
<circle cx="509.3" cy="526.1" r="1.55"/>
<line x1="321" y1="511.1" x2="507.7" y2="500" stroke="#1c4066" stroke-width="1.75" stroke-linecap="round"/>
<text x="321.46" y="348.2" font-size="9.8" fill="#111" stroke="#111" stroke-width="0.2">r</text>
<rect x="327.4" y="343.95" width="7.1" height="0.9" fill="#111"/>
<rect x="327.4" y="345.75" width="7.1" height="0.9" fill="#111"/>
<text x="338.07" y="348.2" font-size="9.8" fill="#111" textLength="23.99" lengthAdjust="spacingAndGlyphs" stroke="#111" stroke-width="0.2">0.048</text>
<text x="364.62" y="348.2" font-size="9.8" fill="#111" stroke="#111" stroke-width="0.2">,</text>
<text x="370.76" y="348.2" font-size="9.8" fill="#111" stroke="#111" stroke-width="0.2">p</text>
<rect x="379.1" y="343.95" width="6.6" height="0.9" fill="#111"/>
<rect x="379.1" y="345.75" width="6.6" height="0.9" fill="#111"/>
<text x="390.14" y="348.2" font-size="9.8" fill="#111" textLength="19.83" lengthAdjust="spacingAndGlyphs" stroke="#111" stroke-width="0.2">0.57</text>
</g>
</svg>
</body></html>
